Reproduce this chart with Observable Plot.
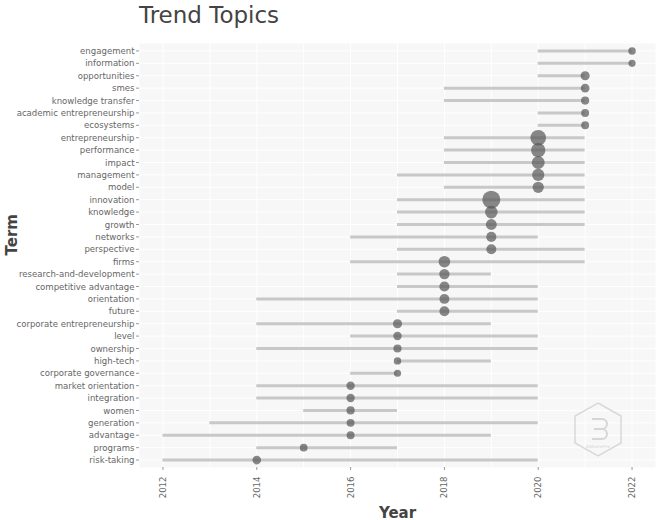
<!DOCTYPE html>
<html>
<head>
<meta charset="utf-8">
<script src="https://cdn.jsdelivr.net/npm/d3@7"></script>
<script src="https://cdn.jsdelivr.net/npm/@observablehq/plot@0.6"></script>
<style>
  html, body { margin: 0; padding: 0; background: #fff; }
  #wrap { position: relative; width: 659px; height: 520px; overflow: hidden; }
  #title { height: 36px; margin: 0; padding-left: 139px; font-family: "DejaVu Sans", sans-serif; font-size: 23px; font-weight: normal; color: #444; line-height: 30px; }
  #chart svg { display: block; }
  #logo { position: absolute; left: 570px; top: 401px; }
</style>
</head>
<body>
<div id="wrap">
  <div id="title">Trend Topics</div>
  <div id="chart"></div>
  <svg id="logo" width="56" height="58" viewBox="0 0 56 58">
    <polygon points="28,2 51,15 51,42 28,55 5,42 5,15" fill="none" stroke="#d9d9d9" stroke-width="1.5"/>
    <path d="M22,18 h10 a5,5 0 0 1 0,10 h-8 h8 a5,5 0 0 1 0,10 h-10" fill="none" stroke="#d6d6d6" stroke-width="2"/>
    <text x="28" y="47" text-anchor="middle" font-size="4" fill="#d0d0d0" font-family="DejaVu Sans">bibliometrix</text>
  </svg>
</div>
<script>
const terms = ["engagement","information","opportunities","smes","knowledge transfer","academic entrepreneurship","ecosystems","entrepreneurship","performance","impact","management","model","innovation","knowledge","growth","networks","perspective","firms","research-and-development","competitive advantage","orientation","future","corporate entrepreneurship","level","ownership","high-tech","corporate governance","market orientation","integration","women","generation","advantage","programs","risk-taking"];
const yearQ1 =   [2020,2020,2020,2018,2018,2020,2020,2018,2018,2018,2017,2018,2017,2017,2017,2016,2017,2016,2017,2017,2014,2017,2014,2016,2014,2017,2016,2014,2014,2015,2013,2012,2014,2012];
const yearMed =  [2022,2022,2021,2021,2021,2021,2021,2020,2020,2020,2020,2020,2019,2019,2019,2019,2019,2018,2018,2018,2018,2018,2017,2017,2017,2017,2017,2016,2016,2016,2016,2016,2015,2014];
const yearQ3 =   [2022,2022,2021,2021,2021,2021,2021,2021,2021,2021,2021,2021,2021,2021,2021,2020,2021,2021,2019,2020,2020,2020,2019,2020,2020,2019,2017,2020,2020,2017,2020,2019,2017,2020];
const freq =     [14,13,21,19,17,16,16,62,52,42,38,32,82,40,30,26,25,34,27,26,25,25,21,18,17,14,13,18,18,17,16,16,15,19];
const yearTicks = [2012,2014,2016,2018,2020,2022];
const gridYears = [2012,2013,2014,2015,2016,2017,2018,2019,2020,2021,2022];

const data = terms.map((t, i) => ({term: t, q1: yearQ1[i], med: yearMed[i], q3: yearQ3[i], freq: freq[i]}));

const chart = Plot.plot({
  width: 659,
  height: 484,
  marginLeft: 139,
  marginRight: 4,
  marginTop: 7,
  marginBottom: 53,
  style: {fontFamily: "'DejaVu Sans Condensed', 'DejaVu Sans', sans-serif", fontSize: "9.5px", color: "#666", background: "transparent"},
  x: {domain: [2011.5, 2022.5], label: null},
  y: {type: "point", domain: terms, padding: 0.6, round: false, label: null},
  r: {domain: [0, 82], range: [0, 9]},
  marks: [
    Plot.frame({fill: "#f7f7f7", stroke: "none"}),
    Plot.gridX(gridYears, {stroke: "#ffffff", strokeOpacity: 1, strokeWidth: 1}),
    Plot.gridY(terms, {stroke: "#ffffff", strokeOpacity: 1, strokeWidth: 1}),
    Plot.ruleY(data, {y: "term", x1: "q1", x2: "q3", stroke: "#c8c8c8", strokeWidth: 3}),
    Plot.dot(data, {x: "med", y: "term", r: "freq", fill: "#555", fillOpacity: 0.7, stroke: "none"}),
    Plot.axisX({ticks: yearTicks, tickFormat: d => String(d), tickRotate: -90, tickSize: 3, tickPadding: 6, stroke: "#999", fill: "#666", label: null}),
    Plot.axisY({tickSize: 3, tickPadding: 2, stroke: "#999", fill: "#666", label: null}),
    Plot.text(["Year"], {frameAnchor: "bottom", dy: 50, text: d => d, fontSize: 15, fontWeight: "bold", fill: "#444", fontFamily: "'DejaVu Sans', sans-serif"}),
    Plot.text(["Term"], {frameAnchor: "left", dx: -127, rotate: -90, text: d => d, fontSize: 15, fontWeight: "bold", fill: "#444", fontFamily: "'DejaVu Sans', sans-serif"})
  ]
});
document.getElementById("chart").appendChild(chart);
</script>
</body>
</html>
